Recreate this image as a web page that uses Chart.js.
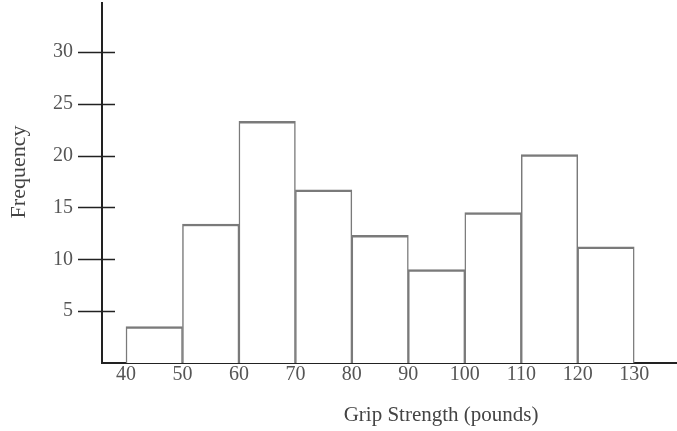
<!DOCTYPE html>
<html>
<head>
<meta charset="utf-8">
<script src="https://cdn.jsdelivr.net/npm/chart.js@4"></script>
<style>
  html, body { margin: 0; padding: 0; background: #fff; }
  #wrap { width: 677px; height: 431px; }
</style>
</head>
<body>
<div id="wrap"><canvas id="gripChart"></canvas></div>
<script>
// bins (pounds) and frequency
const binStarts = [40, 50, 60, 70, 80, 90, 100, 110, 120];
const binWidth = 10;
const frequency = [3.5, 13.4, 23.3, 16.7, 12.3, 9.0, 14.5, 20.1, 11.2];
const yTickValues = [5, 10, 15, 20, 25, 30];
const xTickValues = [40, 50, 60, 70, 80, 90, 100, 110, 120, 130];

const serif = "'Liberation Serif', 'DejaVu Serif', serif";

// tick marks crossing the y axis + both axis titles
const axisExtras = {
  id: "axisExtras",
  afterDraw(chart) {
    const { ctx, chartArea, scales } = chart;
    const y = scales.y, x = scales.x;
    ctx.save();
    ctx.strokeStyle = "#222";
    ctx.lineWidth = 1.6;
    yTickValues.forEach(v => {
      const py = Math.round(y.getPixelForValue(v)) + 0.5;
      ctx.beginPath();
      ctx.moveTo(chartArea.left - 24, py);
      ctx.lineTo(chartArea.left + 13, py);
      ctx.stroke();
    });

    ctx.fillStyle = "#444";
    ctx.font = "21px " + serif;
    ctx.textAlign = "center";
    ctx.textBaseline = "middle";
    ctx.fillText("Grip Strength (pounds)", x.getPixelForValue(95.8), 415);

    ctx.font = "22px " + serif;
    ctx.translate(19, 172);
    ctx.rotate(-Math.PI / 2);
    ctx.fillText("Frequency", 0, 0);
    ctx.restore();
  }
};

const ctx = document.getElementById("gripChart").getContext("2d");
new Chart(ctx, {
  type: "bar",
  data: {
    datasets: [{
      label: "Frequency",
      data: binStarts.map((s, i) => ({ x: s + binWidth / 2, y: frequency[i] })),
      backgroundColor: "#fff",
      borderColor: "#7a7a7a",
      borderWidth: { top: 2.5, left: 1.5, right: 1.5, bottom: 0 },
      borderSkipped: "start",
      barPercentage: 1,
      categoryPercentage: 1
    }]
  },
  options: {
    responsive: true,
    maintainAspectRatio: false,
    animation: false,
    layout: { padding: { top: 3, right: 1, left: 0, bottom: 0 }, autoPadding: false },
    plugins: {
      legend: { display: false },
      tooltip: { enabled: false }
    },
    scales: {
      x: {
        type: "linear",
        offset: false,
        min: 35.75,
        max: 137.4,
        afterFit: s => { s.height = 68; s.paddingLeft = 0; s.paddingRight = 0; },
        afterBuildTicks: s => { s.ticks = xTickValues.map(v => ({ value: v })); },
        grid: { display: false, drawTicks: false },
        border: { display: true, color: "#222", width: 2 },
        ticks: {
          autoSkip: false,
          maxRotation: 0,
          padding: 0,
          color: "#555",
          font: { family: serif, size: 20 }
        }
      },
      y: {
        min: 0,
        max: 34.7,
        afterFit: s => { s.width = 102; s.paddingTop = 0; s.paddingBottom = 0; },
        afterBuildTicks: s => { s.ticks = yTickValues.map(v => ({ value: v })); },
        grid: { display: false, drawTicks: false },
        border: { display: true, color: "#222", width: 2 },
        ticks: {
          padding: 29,
          color: "#555",
          font: { family: serif, size: 20 }
        }
      }
    }
  },
  plugins: [axisExtras]
});
</script>
</body>
</html>
